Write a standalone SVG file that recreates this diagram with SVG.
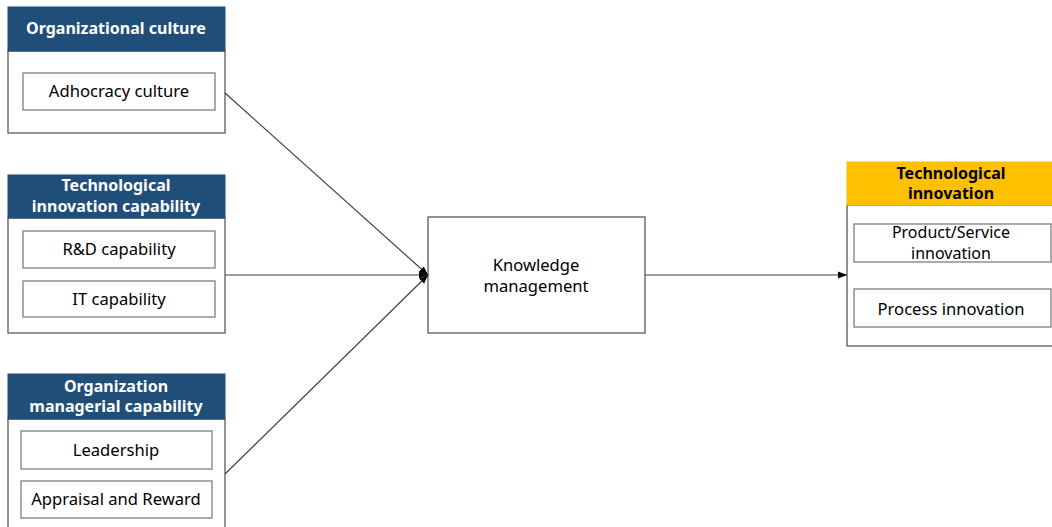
<svg xmlns="http://www.w3.org/2000/svg" width="1052" height="527" viewBox="0 0 1052 527">
<style>
.outer{fill:#fff;stroke:#595959;stroke-width:1.3}
.hdr{fill:#1f4e79;stroke:#1f4e79;stroke-width:1}
.hdry{fill:#ffc000;stroke:#ffc000;stroke-width:1}
.inner{fill:#fff;stroke:#7f7f7f;stroke-width:1.3}
.kb{fill:#fff;stroke:#595959;stroke-width:1.3}
.ht{font-family:"Noto Sans","Open Sans",sans-serif;font-weight:bold;font-size:16px;fill:#fff;text-anchor:middle}
.hty{font-family:"Noto Sans","Open Sans",sans-serif;font-weight:bold;font-size:16px;fill:#000;text-anchor:middle}
.t{font-family:"Noto Sans","Open Sans",sans-serif;font-size:16.6px;fill:#000;text-anchor:middle}
.ts{font-family:"Noto Sans","Open Sans",sans-serif;font-size:16px;fill:#000;text-anchor:middle}
.conn{stroke:#404040;stroke-width:1.2;fill:none}
</style>
<defs>
<marker id="arr" viewBox="0 0 10 10" refX="10" refY="5" markerWidth="9" markerHeight="9" orient="auto" markerUnits="userSpaceOnUse">
<path d="M0,1 L10,5 L0,9 z" fill="#000"/>
</marker>
</defs>
<g id="org-culture">
<rect class="outer" x="8" y="51" width="217" height="82"/>
<rect class="hdr" x="8" y="7" width="217" height="44"/>
<text class="ht" x="116" y="34">Organizational culture</text>
<rect class="inner" x="23" y="73" width="192" height="37"/>
<text class="t" x="119" y="97">Adhocracy culture</text>
</g>
<g id="tech-capability">
<rect class="outer" x="8" y="218" width="217" height="115"/>
<rect class="hdr" x="8" y="175" width="217" height="43"/>
<text class="ht" x="116" y="191">Technological</text>
<text class="ht" x="116" y="212">innovation capability</text>
<rect class="inner" x="23" y="231" width="192" height="37"/>
<text class="t" x="119" y="255">R&amp;D capability</text>
<rect class="inner" x="23" y="281" width="192" height="36"/>
<text class="t" x="119" y="305">IT capability</text>
</g>
<g id="org-managerial">
<rect class="outer" x="8" y="419" width="217" height="120"/>
<rect class="hdr" x="8" y="374" width="217" height="45"/>
<text class="ht" x="116" y="392">Organization</text>
<text class="ht" x="116" y="412">managerial capability</text>
<rect class="inner" x="21" y="431" width="191" height="38"/>
<text class="t" x="116" y="456">Leadership</text>
<rect class="inner" x="21" y="481" width="191" height="37"/>
<text class="t" x="116" y="505">Appraisal and Reward</text>
</g>
<g id="knowledge">
<rect class="kb" x="428" y="217" width="217" height="116"/>
<text class="t" x="536" y="271">Knowledge</text>
<text class="t" x="536" y="292">management</text>
</g>
<g id="tech-innovation">
<rect class="outer" x="847" y="205" width="210" height="141"/>
<rect class="hdry" x="847" y="162" width="210" height="43"/>
<text class="hty" x="951" y="179">Technological</text>
<text class="hty" x="951" y="199">innovation</text>
<rect class="inner" x="854" y="224" width="197" height="38"/>
<text class="ts" x="951" y="238">Product/Service</text>
<text class="ts" x="951" y="259">innovation</text>
<rect class="inner" x="854" y="289" width="197" height="38"/>
<text class="t" x="951" y="315">Process innovation</text>
</g>
<g id="connectors">
<line class="conn" x1="225" y1="93" x2="428" y2="275" marker-end="url(#arr)"/>
<line class="conn" x1="225" y1="275" x2="428" y2="275" marker-end="url(#arr)"/>
<line class="conn" x1="225" y1="474" x2="428" y2="275" marker-end="url(#arr)"/>
<line class="conn" x1="645" y1="275" x2="847" y2="275" marker-end="url(#arr)"/>
</g>
</svg>
